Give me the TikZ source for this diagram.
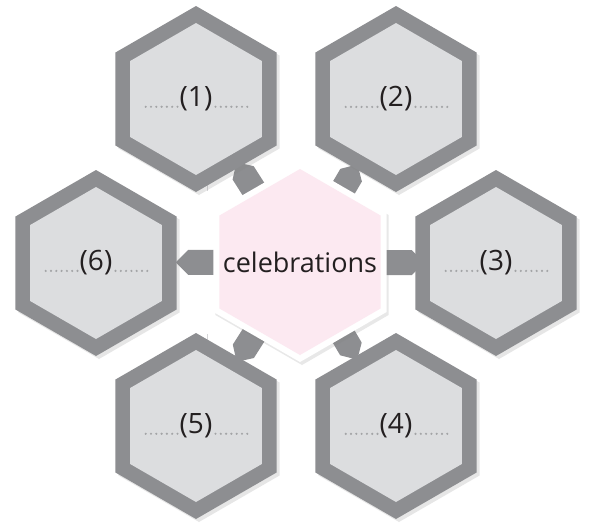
\documentclass[tikz,border=0pt]{standalone}
\usepackage{fontspec}
\setmainfont{Open Sans}
\usetikzlibrary{positioning,shapes.geometric,shapes.arrows,shadows,calc,backgrounds}
\definecolor{ink}     {HTML}{231F20}
\definecolor{band}    {HTML}{8D8E91}
\definecolor{hexfill} {HTML}{DCDDDF}
\definecolor{hubfill} {HTML}{FCE9F1}
\definecolor{dotgray} {HTML}{A3A4A6}
\definecolor{faint}   {HTML}{D6D6D8}
\tikzset{
  % --- nodes
  hexbase/.style = {regular polygon, regular polygon sides=6, shape border rotate=30,
                    inner sep=0pt, outer sep=0pt},
  hexout/.style  = {hexbase, minimum size=186pt, fill=band,
                    drop shadow={shadow xshift=3pt, shadow yshift=-3pt, opacity=0.2}},
  hexin/.style   = {hexbase, minimum size=152pt, fill=hexfill},
  glow/.style    = {hexbase, minimum size=200pt, fill=white,
                    drop shadow={shadow xshift=2pt, shadow yshift=-3pt, opacity=0.18}},
  hub/.style     = {hexbase, minimum size=186pt, fill=hubfill},
  hubtext/.style = {inner sep=0pt, text=ink, font=\fontsize{27pt}{32pt}\selectfont},
  num/.style     = {inner sep=0pt, text=ink, font=\fontsize{28pt}{32pt}\selectfont},
  % --- edges
  link/.style    = {single arrow, single arrow head extend=0pt, minimum width=25pt,
                    minimum height=40pt, inner sep=0pt, fill=band},
  dots/.style    = {draw=dotgray, line width=2.4pt, line cap=round,
                    dash pattern=on 0pt off 5.3pt},
}
\begin{document}
\begin{tikzpicture}[x=1pt,y=-1pt]
  \useasboundingbox (0,0) rectangle (590,523);

  % outer hexagons
  \foreach \k/\px/\py in {1/196/99, 2/396/99, 3/496/263, 4/396/426, 5/196/426, 6/96/263}
  {
    \node[hexout] (h\k) at (\px,\py) {};
    \node[hexin] (h\k in) at (h\k) {};
    \node[num] (n\k) at (h\k) {(\k)};
    \draw[dots] ([xshift=-2pt]n\k.base west) -- ++(-32,0);
    \draw[dots] ([xshift=3pt]n\k.base east) -- ++(36,0);
  }

  % centre
  \node[glow] (halo) at (300,262) {};
  \node[hub] (hub) at (halo) {};
  \node[hubtext] (title) at (hub) {celebrations};

  % arrows and the faint frame corners behind
  \begin{scope}[on background layer]
    \foreach \cx/\cy/\dx/\dy in {207/157/1/1, 393/157/-1/1, 207/368/1/-1, 393/368/-1/-1}
      \draw[faint, line width=0.5pt] (\cx+26*\dx,\cy) -- (\cx,\cy) -- (\cx,\cy+34*\dy);
    \foreach \k/\ang/\d in {1/122.5/92, 2/59.5/87, 3/0/98, 4/-59.5/87, 5/-122.5/92, 6/180/98}
      \node[link, rotate=\ang] (a\k) at ($(hub)!\d pt!(h\k)$) {};
  \end{scope}
\end{tikzpicture}
\end{document}
